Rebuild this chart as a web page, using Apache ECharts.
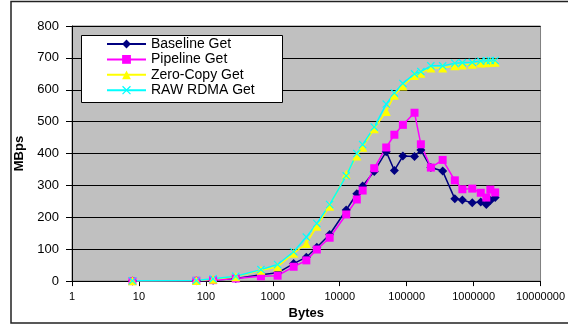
<!DOCTYPE html>
<html>
<head>
<meta charset="utf-8">
<script src="https://cdn.jsdelivr.net/npm/echarts@6/dist/echarts.min.js"></script>
<style>
  html, body { margin: 0; padding: 0; background: #fff; }
  #Chart1 { width: 568px; height: 325px; }
</style>
</head>
<body>
<div id="Chart1"></div>
<script>
// message sizes (bytes)
const bytes = [8, 72, 128, 280, 665, 1180, 2048, 3170, 4550, 7070, 12500, 18000, 22000, 32768,
  49500, 65536, 87800, 131072, 163000, 230000, 345000, 524288, 680000, 955000,
  1280000, 1550000, 1780000, 2100000];

// throughput in MBps
const baselineGet = [0, 1, 3, 8, 20, 26, 55, 75, 106, 146, 223, 274, 298, 344,
  406, 347, 392, 391, 411, 356, 345, 258, 254, 246, 248, 240, 253, 262];
const pipelineGet = [0, 1, 3, 8, 15, 17, 45, 65, 99, 136, 209, 256, 284, 354,
  419, 459, 490, 528, 429, 356, 380, 316, 288, 290, 277, 262, 287, 278];
const zeroCopyGet = [1, 2, 6, 14, 34, 45, 87, 118, 172, 235, 335, 392, 420, 478,
  532, 583, 612, 645, 652, 668, 668, 675, 678, 680, 684, 685, 686, 686];
const rawRdmaGet = [1, 2, 7, 15, 36, 52, 92, 138, 181, 240, 330, 400, 428, 483,
  555, 590, 620, 650, 657, 675, 675, 683, 685, 686, 690, 691, 692, 692];

const xTicks = ["1", "10", "100", "1000", "10000", "100000", "1000000", "10000000"];
const yTicks = [0, 100, 200, 300, 400, 500, 600, 700, 800];

const crossPath = "path://M0,1L1,0L5,4L9,0L10,1L6,5L10,9L9,10L5,6L1,10L0,9L4,5Z";

function lineSeries(name, values, color, symbol, size) {
  return {
    name: name,
    type: "line",
    data: bytes.map((b, i) => [b, values[i]]),
    symbol: symbol,
    symbolSize: size,
    showAllSymbol: true,
    lineStyle: { color: color, width: 1.5 },
    itemStyle: { color: color },
    emphasis: { disabled: true },
  };
}

const myChart = echarts.init(document.getElementById("Chart1"));

const option = {
  animation: false,
  textStyle: { fontFamily: "Liberation Sans, Arial, sans-serif", color: "#000" },
  grid: {
    left: 72,
    right: 26,
    top: 26,
    bottom: 42.5,
    show: true,
    backgroundColor: "#C0C0C0",
    borderColor: "#808080",
    borderWidth: 1,
  },
  graphic: [
    {
      type: "rect",
      z: 0,
      shape: { x: 11, y: 1.5, width: 600, height: 321.5 },
      style: { fill: null, stroke: "#222", lineWidth: 1.5 },
    },
    {
      type: "rect",
      z: 10,
      shape: { x: 81.5, y: 35.5, width: 201, height: 67 },
      style: { fill: "#fff", stroke: "#000", lineWidth: 1 },
    },
  ],
  legend: {
    z: 20,
    orient: "vertical",
    left: 106,
    top: 37,
    padding: 0,
    itemWidth: 39,
    itemHeight: 11,
    itemGap: 1.4,
    selectedMode: false,
    textStyle: { fontSize: 14, color: "#000", padding: [0, 0, 0, 0] },
    data: ["Baseline Get", "Pipeline Get", "Zero-Copy Get", "RAW RDMA Get"],
  },
  xAxis: {
    type: "log",
    logBase: 10,
    min: 1,
    max: 10000000,
    name: "Bytes",
    nameLocation: "middle",
    nameGap: 24,
    nameTextStyle: { fontWeight: "bold", fontSize: 13, color: "#000" },
    axisLine: { show: true, lineStyle: { color: "#000", width: 1 } },
    axisTick: { show: true, inside: false, length: 5, lineStyle: { color: "#000" } },
    minorTick: { show: false },
    splitLine: { show: false },
    axisLabel: {
      fontSize: 11,
      color: "#000",
      margin: 10,
      formatter: (v) => xTicks[Math.round(Math.log10(v))],
    },
  },
  yAxis: {
    type: "value",
    min: yTicks[0],
    max: yTicks[yTicks.length - 1],
    interval: 100,
    name: "MBps",
    nameLocation: "middle",
    nameGap: 41,
    nameTextStyle: { fontWeight: "bold", fontSize: 13, color: "#000" },
    axisLine: { show: true, lineStyle: { color: "#000", width: 1 } },
    axisTick: { show: true, inside: false, length: 6, lineStyle: { color: "#000" } },
    splitLine: { show: true, lineStyle: { color: "#000", width: 1 } },
    axisLabel: { fontSize: 13, color: "#000", margin: 13 },
  },
  series: [
    lineSeries("Baseline Get", baselineGet, "#000080", "diamond", 9),
    lineSeries("Pipeline Get", pipelineGet, "#FF00FF", "rect", 8),
    lineSeries("Zero-Copy Get", zeroCopyGet, "#FFFF00", "triangle", 9),
    lineSeries("RAW RDMA Get", rawRdmaGet, "#00FFFF", crossPath, 8),
  ],
};

myChart.setOption(option);
</script>
</body>
</html>
